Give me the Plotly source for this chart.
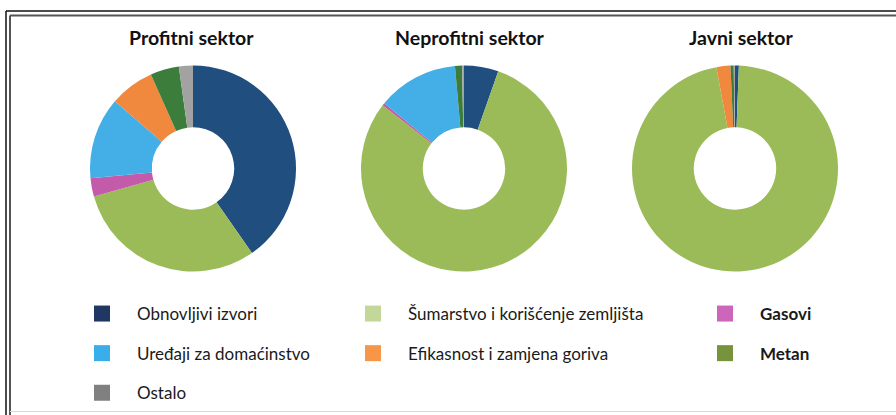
import plotly.graph_objects as go

W, H = 896, 415

# ---------------- data ----------------
categories = [
    "Obnovljivi izvori",
    "Šumarstvo i korišćenje zemljišta",
    "Gasovi",
    "Uređaji za domaćinstvo",
    "Efikasnost i zamjena goriva",
    "Metan",
    "Ostalo",
]
sectors = ["Profitni sektor", "Neprofitni sektor", "Javni sektor"]
profitni = [40.3, 30.3, 2.9, 12.8, 7.0, 4.5, 2.2]
neprofitni = [5.4, 80.1, 0.4, 12.7, 0.0, 1.1, 0.3]
javni = [0.6, 96.5, 0.0, 0.0, 2.2, 0.5, 0.2]
sector_values = [profitni, neprofitni, javni]

slice_colors = ["#1f4e7f", "#9bbb59", "#c45aaa", "#44aee6", "#f0883e", "#3c7d3c", "#a2a2a2"]
legend_colors = ["#1f3763", "#c4d79b", "#cc66bb", "#3aaee8", "#f79646", "#77933c", "#808080"]
legend_names = [
    "Obnovljivi izvori",
    "Šumarstvo i korišćenje zemljišta",
    "<b>Gasovi</b>",
    "Uređaji za domaćinstvo",
    "Efikasnost i zamjena goriva",
    "<b>Metan</b>",
    "Ostalo",
]
# legend column for each category (columns read row by row in the picture)
legend_column = ["legend", "legend2", "legend3", "legend", "legend2", "legend3", "legend"]

# ---------------- layout helpers ----------------
def px_x(x):
    return x / W

def px_y(y):
    return 1 - y / H

centers_x = [193, 464, 735]
center_y = 168.5
radius = 103

fig = go.Figure()

for name, vals, cx in zip(sectors, sector_values, centers_x):
    fig.add_trace(go.Pie(
        labels=categories,
        values=vals,
        name=name,
        hole=0.4,
        sort=False,
        direction="clockwise",
        rotation=0,
        textinfo="none",
        hoverinfo="label+percent",
        marker=dict(colors=slice_colors, line=dict(width=0)),
        domain=dict(x=[px_x(cx - radius), px_x(cx + radius)],
                    y=[px_y(center_y + radius), px_y(center_y - radius)]),
        showlegend=False,
    ))

for cat, nm, col, leg in zip(categories, legend_names, legend_colors, legend_column):
    fig.add_trace(go.Scatter(
        x=[None], y=[None], mode="markers",
        marker=dict(symbol="square", size=16, color=col),
        name=nm, legend=leg, legendgroup=cat, showlegend=True,
        hoverinfo="skip",
    ))

title_font = dict(family="Lato", size=19.5, color="#111111")
title_x = [191, 470, 741]
for t, tx in zip(sectors, title_x):
    fig.add_annotation(text="<b>%s</b>" % t, x=px_x(tx), y=px_y(38),
                       xref="paper", yref="paper", xanchor="center", yanchor="middle",
                       showarrow=False, font=title_font)

legend_common = dict(
    orientation="v", xanchor="left", yanchor="top",
    traceorder="grouped", tracegroupgap=14.5, itemwidth=60,
    font=dict(family="Lato", size=17, color="#1a1a1a"),
    bgcolor="rgba(0,0,0,0)", borderwidth=0,
    itemclick=False, itemdoubleclick=False,
)
legend_top = 296
fig.update_layout(
    legend=dict(legend_common, x=px_x(67), y=px_y(legend_top)),
    legend2=dict(legend_common, x=px_x(338), y=px_y(legend_top)),
    legend3=dict(legend_common, x=px_x(690), y=px_y(legend_top)),
)

# frame lines (double border)
frame = [
    (6, 11, W, 11, "#111111", 1.5),
    (6, 11, 6, H, "#111111", 1.5),
    (10, 15.5, W, 15.5, "#555555", 2),
    (10, 15.5, 10, H, "#555555", 2),
    (10, 411.5, W, 411.5, "#d8d8d8", 1),
]
for x0, y0, x1, y1, c, w in frame:
    fig.add_shape(type="line", xref="paper", yref="paper",
                  x0=px_x(x0), y0=px_y(y0), x1=px_x(x1), y1=px_y(y1),
                  line=dict(color=c, width=w))

fig.update_layout(
    width=W, height=H, autosize=False,
    margin=dict(l=0, r=0, t=0, b=0, autoexpand=False),
    paper_bgcolor="white", plot_bgcolor="white",
    xaxis=dict(visible=False), yaxis=dict(visible=False),
)

fig.write_html("out.html", config={"displayModeBar": False},
               post_script="document.body.style.margin='0px';")
